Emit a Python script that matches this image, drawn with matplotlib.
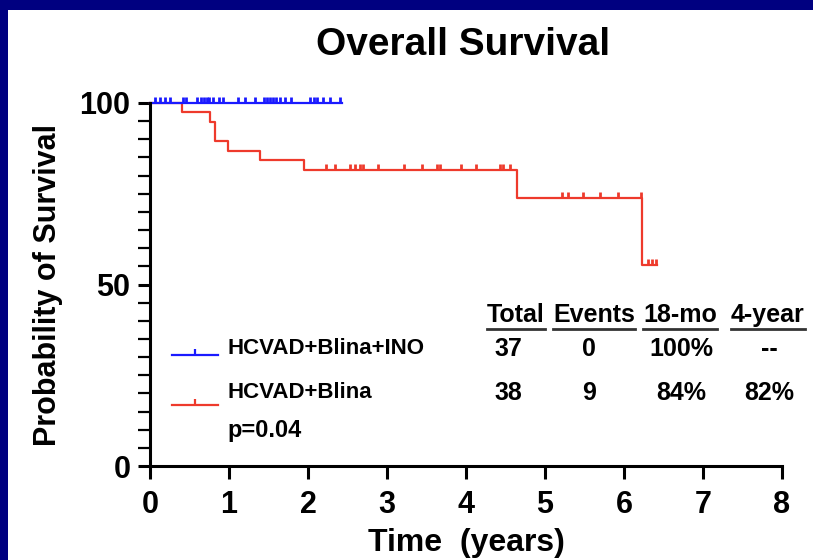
import matplotlib.pyplot as plt
import numpy as np
from matplotlib.path import Path
from matplotlib.patches import Rectangle

plt.rcParams['font.family'] = ['Liberation Sans', 'DejaVu Sans']
plt.rcParams['font.weight'] = 'bold'

# HCVAD+Blina (red): step times (years) and survival (%) after each step
red_times = [0.0, 0.41, 0.76, 0.82, 0.99, 1.39, 1.95, 4.64, 6.23]
red_surv = [100.0, 97.4, 94.7, 89.5, 86.8, 84.2, 81.6, 73.9, 55.4]
red_end = 6.42
red_censor = [2.23, 2.34, 2.53, 2.59, 2.66, 2.70, 2.88, 3.21, 3.44, 3.63,
              3.67, 3.94, 4.13, 4.43, 4.47, 4.56,
              5.21, 5.29, 5.48, 5.69, 5.93, 6.21,
              6.30, 6.35, 6.40]

# HCVAD+Blina+INO (blue): no events, all censored
blue_end = 2.43
blue_censor = [0.06, 0.13, 0.19, 0.25, 0.42, 0.46, 0.60, 0.64, 0.68, 0.72,
               0.75, 0.80, 0.87, 0.93, 1.12, 1.20, 1.33, 1.44, 1.48, 1.52,
               1.56, 1.60, 1.65, 1.71, 1.78, 2.03, 2.07, 2.11, 2.19, 2.28, 2.41]

# summary table
table_headers = ["Total", "Events", "18-mo", "4-year"]
table_rows = [["37", "0", "100%", "--"],
              ["38", "9", "84%", "82%"]]
group_labels = ["HCVAD+Blina+INO", "HCVAD+Blina"]
p_text = "p=0.04"

BLUE = "#1a1aff"
RED = "#ee3a2c"
NAVY = "#000080"


def step_value(times, surv, t):
    idx = np.searchsorted(times, t, side='right') - 1
    return np.asarray(surv)[idx]


tick_marker = Path([(0, 0), (0, 1)])

fig = plt.figure(figsize=(8.13, 5.6), dpi=100)
fig.patch.set_facecolor('white')
# navy slide frame: top and left bands
fig.patches.append(Rectangle((0, 550 / 560), 1, 10 / 560, transform=fig.transFigure,
                             facecolor=NAVY, edgecolor='none'))
fig.patches.append(Rectangle((0, 0), 8 / 813, 1, transform=fig.transFigure,
                             facecolor=NAVY, edgecolor='none'))

ax = fig.add_axes([150 / 813, 94 / 560, 632 / 813, 363 / 560])
ax.set_facecolor('none')

# curves
ax.step(red_times + [red_end], red_surv + [red_surv[-1]], where='post',
        color=RED, lw=1.6, clip_on=False)
ax.plot(red_censor, step_value(red_times, red_surv, red_censor), ls='none',
        marker=tick_marker, ms=9, mew=2, color=RED, clip_on=False)
ax.plot([0, blue_end], [100, 100], color=BLUE, lw=1.6, clip_on=False)
ax.plot(blue_censor, [100] * len(blue_censor), ls='none',
        marker=tick_marker, ms=9, mew=2, color=BLUE, clip_on=False)

ax.set_xlim(0, 8)
ax.set_ylim(0, 100)
ax.spines[['top', 'right']].set_visible(False)
ax.spines[['left', 'bottom']].set_linewidth(2.2)
ax.set_xticks(range(0, 9))
ax.set_yticks([0, 50, 100])
ax.set_yticks(np.arange(0, 101, 5), minor=True)
ax.tick_params(axis='both', which='major', length=9, width=2.2, labelsize=22, pad=5)
ax.tick_params(axis='y', which='minor', length=9, width=1.6)
ax.tick_params(axis='x', pad=8)
for lab in ax.get_xticklabels() + ax.get_yticklabels():
    lab.set_fontweight('bold')

ax.set_xlabel("Time  (years)", fontsize=23, fontweight='bold', labelpad=6)
ax.set_ylabel("Probability of Survival", fontsize=22, fontweight='bold', labelpad=12)

fig.text(463 / 813, 1 - 45 / 560, "Overall Survival", fontsize=28,
         fontweight='bold', ha='center', va='center')

# legend samples, placed in data coords
line_y = [30.6, 16.8]
label_y = [32.5, 20.3]
for ly, ty, col, lab in zip(line_y, label_y, [BLUE, RED], group_labels):
    ax.plot([0.28, 0.86], [ly, ly], color=col, lw=1.6, clip_on=False)
    ax.plot([0.57], [ly], marker=tick_marker, ms=8, mew=1.6, color=col, ls='none')
    ax.text(0.98, ty, lab, fontsize=16, fontweight='bold', va='center')
ax.text(0.98, 9.9, p_text, fontsize=17, fontweight='bold', va='center')

# summary table
head_x = [4.63, 5.62, 6.71, 7.82]
val_x = [4.54, 5.56, 6.73, 7.84]
header_texts = []
for cx, h in zip(head_x, table_headers):
    header_texts.append(ax.text(cx, 41.6, h, fontsize=18, fontweight='bold',
                                ha='center', va='center'))
for row, y in zip(table_rows, [32.2, 20.0]):
    for cx, v in zip(val_x, row):
        ax.text(cx, y, v, fontsize=18, fontweight='bold', ha='center', va='center')

# underline the table headers
fig.canvas.draw()
renderer = fig.canvas.get_renderer()
for t in header_texts:
    bb = t.get_window_extent(renderer).transformed(ax.transData.inverted())
    ax.plot([bb.x0, bb.x1], [bb.y0 - 0.6, bb.y0 - 0.6], color='#333333',
            lw=2, clip_on=False)

fig.savefig("out.png", dpi=100)
